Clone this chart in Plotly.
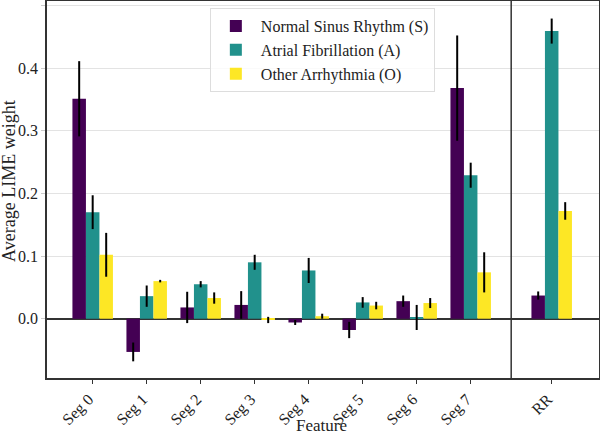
import plotly.graph_objects as go

categories = ["Seg 0", "Seg 1", "Seg 2", "Seg 3", "Seg 4", "Seg 5", "Seg 6", "Seg 7", "RR"]
positions = [0, 1, 2, 3, 4, 5, 6, 7, 8.5]

series_names = ["Normal Sinus Rhythm (S)", "Atrial Fibrillation (A)", "Other Arrhythmia (O)"]
normal_vals = [0.351, -0.053, 0.018, 0.022, -0.006, -0.018, 0.028, 0.368, 0.037]
normal_err = [0.060, 0.015, 0.025, 0.022, 0.004, 0.013, 0.009, 0.084, 0.0065]
af_vals = [0.170, 0.036, 0.055, 0.090, 0.077, 0.026, 0.002, 0.229, 0.459]
af_err = [0.027, 0.017, 0.005, 0.012, 0.020, 0.0085, 0.020, 0.020, 0.020]
other_vals = [0.102, 0.060, 0.033, -0.002, 0.004, 0.021, 0.025, 0.074, 0.172]
other_err = [0.035, 0.002, 0.009, 0.005, 0.004, 0.006, 0.008, 0.032, 0.014]

colors = ["#440154", "#21918c", "#fde725"]
offsets = [-0.25, 0.0, 0.25]
bar_w = 0.25

FONT = "'Liberation Serif', 'DejaVu Serif', serif"

fig = go.Figure()
for name, vals, errs, col, off in zip(series_names,
                                      [normal_vals, af_vals, other_vals],
                                      [normal_err, af_err, other_err],
                                      colors, offsets):
    fig.add_trace(go.Bar(
        x=[p + off for p in positions], y=vals, width=bar_w, name=name,
        marker=dict(color=col, line=dict(width=0)),
        error_y=dict(type="data", array=errs, color="black", thickness=2, width=0),
    ))

fig.add_shape(type="line", xref="x", yref="paper", x0=7.75, x1=7.75, y0=0, y1=1,
              line=dict(color="#333333", width=1.5))

fig.add_annotation(text="Feature", xref="paper", yref="paper", x=0.4975, y=-0.126,
                   xanchor="center", yanchor="middle", showarrow=False,
                   font=dict(family=FONT, size=17, color="#222222"))
fig.add_annotation(text="Average LIME weight", xref="paper", yref="paper", x=-0.047, y=0.523,
                   xanchor="right", yanchor="middle", textangle=-90, showarrow=False,
                   font=dict(family=FONT, size=18, color="#222222"))

fig.update_layout(
    width=600, height=437,
    margin=dict(l=47, r=1, t=1, b=59),
    plot_bgcolor="white", paper_bgcolor="white",
    barmode="overlay",
    showlegend=True,
    font=dict(family=FONT, size=15, color="#222222"),
    legend=dict(x=0.295, y=0.981, xanchor="left", yanchor="top",
                bgcolor="rgba(255,255,255,0.8)", bordercolor="#dddddd", borderwidth=1,
                font=dict(family=FONT, size=16), tracegroupgap=0, itemwidth=40),
    xaxis=dict(range=[-0.846, 9.376], tickvals=positions, ticktext=categories,
               tickangle=-45, ticks="outside", ticklen=4, tickcolor="#333333",
               showgrid=False, zeroline=False, showline=True, linecolor="#333333",
               linewidth=1.5, mirror=True, automargin=False, ticklabelshift=-4,
               tickfont=dict(family=FONT, size=16)),
    yaxis=dict(range=[-0.0946, 0.507], tickvals=[0.0, 0.1, 0.2, 0.3, 0.4, 0.5],
               ticktext=["0.0", "0.1", "0.2", "0.3", "0.4", "0.5"],
               ticks="outside", ticklen=4, tickcolor="#cccccc",
               showgrid=True, gridcolor="#e3e3e3", gridwidth=1,
               zeroline=True, zerolinecolor="#333333", zerolinewidth=1.5,
               showline=True, linecolor="#333333", linewidth=1.5, mirror=True,
               automargin=False,
               tickfont=dict(family=FONT, size=16)),
)

fig.write_html("out.html", config={"displayModeBar": False},
               post_script="document.body.style.margin='0';document.body.style.overflow='hidden';")
